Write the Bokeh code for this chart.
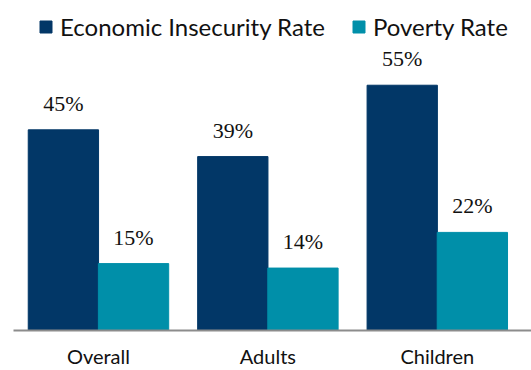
from bokeh.plotting import figure
from bokeh.models import (ColumnDataSource, Range1d, FixedTicker, LabelSet, Legend, LegendItem)
from bokeh.transform import dodge
from bokeh.embed import file_html
from bokeh.resources import INLINE

categories = ["Overall", "Adults", "Children"]
insecurity = [45, 39, 55]
poverty = [15, 14, 22]
series_names = ["Economic Insecurity Rate", "Poverty Rate"]
colors = ["#023767", "#008FA9"]

xs = list(range(len(categories)))
src = ColumnDataSource(dict(
    x=xs, ins=insecurity, pov=poverty,
    ins_lbl=[f"{v}%" for v in insecurity],
    pov_lbl=[f"{v}%" for v in poverty],
))

FONT = "Lato"

p = figure(width=531, height=370, output_backend="svg", toolbar_location=None,
           x_range=Range1d(-0.5015, 2.556), y_range=Range1d(0, 74.0),
           min_border_left=13, min_border_right=0, min_border_top=0, min_border_bottom=0)
p.outline_line_color = None
p.xgrid.visible = False
p.ygrid.visible = False
p.yaxis.visible = False

off = 0.207
w = 0.415
r1 = p.vbar(x=dodge("x", -off), top="ins", width=w, source=src, color=colors[0])
r2 = p.vbar(x=dodge("x", off), top="pov", width=w, source=src, color=colors[1])

for col, lbl, o in [("ins", "ins_lbl", -off), ("pov", "pov_lbl", off)]:
    ls = LabelSet(x=dodge("x", o), y=col, text=lbl, source=src, text_align="center",
                  text_baseline="bottom", y_offset=14, text_font=FONT,
                  text_font_size="22px", text_color="#111111")
    p.add_layout(ls)

ax = p.xaxis[0]
ax.ticker = FixedTicker(ticks=xs)
ax.major_label_overrides = {i: c for i, c in enumerate(categories)}
ax.major_tick_line_color = None
ax.major_tick_out = 0
ax.major_tick_in = 0
ax.minor_tick_line_color = None
ax.minor_tick_out = 0
ax.axis_line_color = "#8C8C8C"
ax.axis_line_width = 2
ax.major_label_standoff = 13
ax.major_label_text_font = FONT
ax.major_label_text_font_size = "20px"
ax.major_label_text_color = "#111111"

legend = Legend(items=[LegendItem(label=series_names[0], renderers=[r1]),
                       LegendItem(label=series_names[1], renderers=[r2])],
                orientation="horizontal", location=(25, 289),
                padding=0, margin=0, spacing=26, label_standoff=7,
                glyph_width=15, glyph_height=15,
                border_line_color=None, background_fill_alpha=0,
                label_text_font=FONT, label_text_font_size="24px",
                label_text_color="#111111")
p.add_layout(legend)

open("out.html", "w").write(file_html(p, INLINE))
